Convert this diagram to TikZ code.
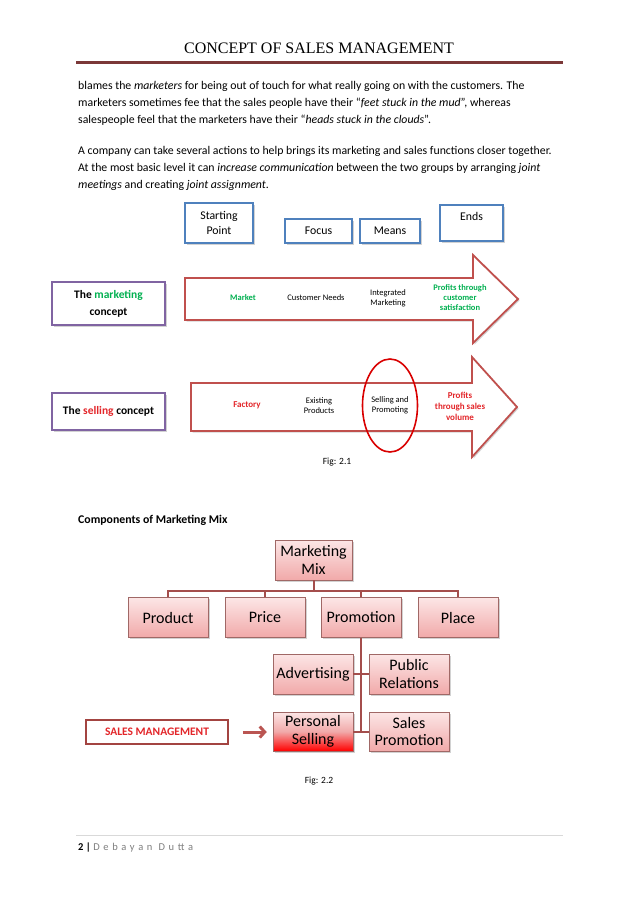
\documentclass[tikz,border=0pt]{standalone}
\usepackage{fontspec}
\setmainfont{Carlito}
\newfontfamily\headfont{Liberation Serif}
\usetikzlibrary{shadows,arrows.meta,calc}
\definecolor{hdr}{HTML}{7B3838}
\definecolor{blu}{HTML}{4F81BD}
\definecolor{pur}{HTML}{8064A2}
\definecolor{arw}{HTML}{C0504D}
\definecolor{grn}{HTML}{00B050}
\definecolor{rd}{HTML}{E3262A}
\definecolor{pinkT}{HTML}{FCE6E6}
\definecolor{pinkB}{HTML}{F1A9A9}
\definecolor{conn}{HTML}{A44E4C}
\definecolor{foot}{HTML}{7F7F7F}
\begin{document}
\begin{tikzpicture}[x=1pt,y=-1pt,
  bodytext/.style={anchor=base west,inner sep=0pt,font=\fontsize{11.8}{14}\selectfont},
  shad/.style={drop shadow={opacity=0.35,shadow xshift=1.5pt,shadow yshift=-1.5pt}},
  bluebox/.style={draw=blu,line width=1.6pt,fill=white,shad,align=center,inner sep=0pt,font=\fontsize{11.8}{15}\selectfont},
  purbox/.style={draw=pur,line width=1.6pt,fill=white,shad,align=center,inner sep=0pt,font=\bfseries\fontsize{11.5}{17}\selectfont},
  bigarrow/.style={draw=arw,line width=1.8pt,fill=white,shad,line join=miter},
  small/.style={align=center,inner sep=0pt,font=\fontsize{8.5}{10}\selectfont},
  treebox/.style={draw=arw!50!gray,line width=0.5pt,top color=pinkT,bottom color=pinkB,shad,align=center,inner sep=0pt,minimum width=80pt,font=\fontsize{16}{17.5}\selectfont},
  connline/.style={draw=conn,line width=2pt},
  caption/.style={inner sep=0pt,font=\fontsize{9.5}{11}\selectfont}]
\useasboundingbox (0,0) rectangle (638,903);
\fill[white] (0,0) rectangle (638,903);
% header
\node[inner sep=0pt,font=\headfont\fontsize{16}{18}\selectfont] (title) at (319,48) {CONCEPT OF SALES MANAGEMENT};
\draw[hdr,line width=2.5pt] (76,62.5) -- (563,62.5);
% body text
\node[bodytext] (l1) at (78,89) {blames the \textit{marketers} for being out of touch for what really going on with the customers. The};
\node[bodytext] (l2) at (78,106) {marketers sometimes fee that the sales people have their ``\textit{feet stuck in the mud}'', whereas};
\node[bodytext] (l3) at (78,123) {salespeople feel that the marketers have their ``\textit{heads stuck in the clouds}''.};
\node[bodytext] (l4) at (78,154) {A company can take several actions to help brings its marketing and sales functions closer together.};
\node[bodytext] (l5) at (78,171) {At the most basic level it can \textit{increase communication} between the two groups by arranging \textit{joint}};
\node[bodytext] (l6) at (78,188) {\textit{meetings} and creating \textit{joint assignment}.};
% fig 2.1 headings
\node[bluebox,minimum width=68pt,minimum height=40pt] (start) at (219,223) {Starting\\Point};
\node[bluebox,minimum width=67pt,minimum height=24pt] (focus) at (318.5,231) {Focus};
\node[bluebox,minimum width=60pt,minimum height=24pt] (means) at (390,231) {Means};
\node[bluebox,minimum width=63pt,minimum height=36pt] (ends) at (471.5,223) {Ends\\[-2pt]~};
% concept boxes
\node[purbox,minimum width=113pt,minimum height=43pt] (mkt) at (108.5,303.5) {The \textcolor{grn}{marketing}\\concept};
\node[purbox,minimum width=113pt,minimum height=37pt] (sell) at (108.5,411.5) {The \textcolor{rd}{selling} concept};
% arrows
\path[bigarrow] (185,278) -- (473,278) -- (473,255) -- (518,299) -- (473,343) -- (473,320) -- (185,320) -- cycle;
\path[bigarrow] (191,383) -- (472,383) -- (472,357) -- (517,407) -- (472,457) -- (472,431) -- (191,431) -- cycle;
\node[small,text=grn,font=\bfseries\fontsize{8.5}{10}\selectfont] (market) at (243,298) {Market};
\node[small] (needs) at (316,298) {Customer Needs};
\node[small] (integ) at (388,298) {Integrated\\Marketing};
\node[small,text=grn,font=\bfseries\fontsize{8.5}{10}\selectfont] (profit1) at (460,298) {Profits through\\customer\\satisfaction};
\node[small,text=rd,font=\bfseries\fontsize{9}{10}\selectfont] (factory) at (247,405) {Factory};
\node[small] (exist) at (319,405.5) {Existing\\Products};
\node[small] (selprom) at (390,405.5) {Selling and\\Promoting};
\node[small,text=rd,font=\bfseries\fontsize{9}{11}\selectfont] (profit2) at (460,406) {Profits\\through sales\\volume};
\draw[red!85!black,line width=1.6pt] (selprom) ellipse [x radius=27.5pt,y radius=46.5pt];
\node[caption] (fig1) at (337,462) {Fig: 2.1};
% fig 2.2
\node[inner sep=0pt,anchor=base west,font=\bfseries\fontsize{11.8}{14}\selectfont] (comp) at (78,523) {Components of Marketing Mix};
\node[treebox,minimum width=77pt,minimum height=40pt] (mix) at (313.5,560) {Marketing\\Mix};
\node[treebox,minimum height=40pt] (product) at (168,617.5) {Product};
\node[treebox,minimum height=40pt] (price) at (265,617.5) {Price};
\node[treebox,minimum height=40pt] (promo) at (361,617.5) {Promotion};
\node[treebox,minimum height=40pt] (place) at (458,617.5) {Place};
\node[treebox,minimum height=40pt] (adv) at (313,674) {Advertising};
\node[treebox,minimum height=40pt] (pr) at (409,674) {Public\\Relations};
\node[treebox,minimum height=39pt,top color=pinkT,bottom color=red,middle color=pinkB] (ps) at (313,731.5) {Personal\\Selling};
\node[treebox,minimum height=39pt] (sp) at (409,731.5) {Sales\\Promotion};
\draw[connline] (mix.south) -- ++(0,11);
\draw[connline] (product.north) -- ++(0,-6.5) -| (place.north);
\draw[connline] (price.north) -- ++(0,-6.5);
\draw[connline] (promo.north) -- ++(0,-6.5);
\draw[connline] (promo.south) -- (promo.south |- ps.east);
\draw[connline] (adv.east) -- (pr.west);
\draw[connline] (ps.east) -- (sp.west);
\node[draw=arw!85!black,line width=1.6pt,fill=white,minimum width=142pt,minimum height=24pt,inner sep=0pt,text=rd,font=\bfseries\fontsize{11.5}{13}\selectfont] (sm) at (157,732) {SALES MANAGEMENT};
\draw[arw!90!gray,line width=3pt,-{Straight Barb[length=5pt,width=11pt]},shorten <=14pt,shorten >=6pt] (sm.east) -- (sm.east -| ps.west);
\node[caption] (fig2) at (319,781) {Fig: 2.2};
% footer
\draw[gray!30,line width=0.6pt] (76,835) -- (563,835);
\node[inner sep=0pt,anchor=base west,font=\fontsize{10.5}{13}\selectfont] (foot) at (78,850) {\textbf{2 |} \textcolor{foot}{\addfontfeature{LetterSpace=35}Debayan Dutta}};
\end{tikzpicture}
\end{document}
